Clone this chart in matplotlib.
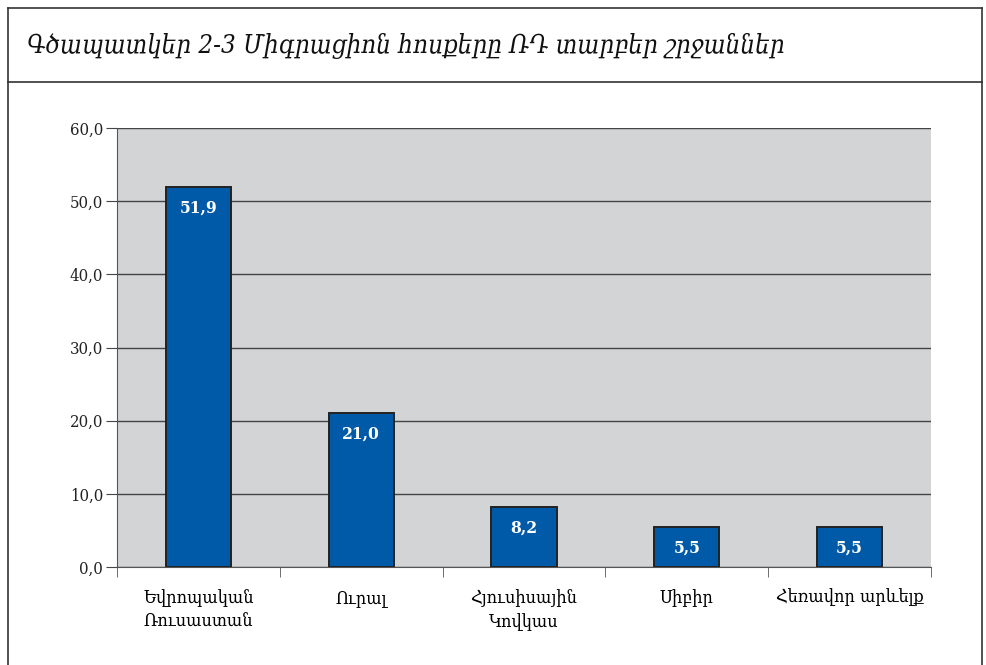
import matplotlib
matplotlib.use("Agg")
import matplotlib.pyplot as plt
from matplotlib.lines import Line2D
from matplotlib.ticker import FixedLocator, FuncFormatter

TITLE = "Գծապատկեր 2-3 Միգրացիոն հոսքերը ՌԴ տարբեր շրջաններ"
regions = ["Եվրոպական\nՌուսաստան", "Ուրալ", "Հյուսիսային\nԿովկաս", "Սիբիր", "Հեռավոր արևելք"]
shares = [51.9, 21.0, 8.2, 5.5, 5.5]
yticks = [0, 10, 20, 30, 40, 50, 60]

BAR = "#005aa7"
BG = "#d3d4d6"
FONT = ["DejaVu Serif", "DejaVu Sans"]

plt.rcParams.update({"font.family": FONT, "font.stretch": "condensed"})

W, H = 987, 665
fig = plt.figure(figsize=(W / 100, H / 100), dpi=100)

def fx(px):
    return px / W

def fy(py):
    return 1 - py / H

# outer frame and title separator
for xs, ys in [((8, 8), (8, H + 5)), ((982, 982), (8, H + 5)),
               ((8, 982), (8, 8)), ((8, 982), (82, 82))]:
    fig.add_artist(Line2D([fx(x) for x in xs], [fy(y) for y in ys],
                          color="#333333", lw=1.2, transform=fig.transFigure))

fig.text(fx(27), fy(46), TITLE, fontsize=18.5, style="italic", va="center",
         ha="left", color="#111111")

ax = fig.add_axes([fx(117), fy(567), fx(931 - 117), fy(128) - fy(567)])
ax.set_facecolor(BG)
x = range(len(regions))
bars = ax.bar(x, shares, 0.4, color=BAR, edgecolor="#222222", linewidth=1.4, zorder=3)
for xi, v in zip(x, shares):
    ax.annotate(f"{v:.1f}".replace(".", ","), xy=(xi, v), xytext=(0, -9),
                textcoords="offset points", ha="center", va="top",
                color="white", fontsize=12.5, fontweight="bold", zorder=4)

ax.set_xlim(-0.5, len(regions) - 0.5)
ax.set_ylim(0, 60)
ax.set_yticks(yticks)
ax.yaxis.set_major_formatter(FuncFormatter(lambda v, p: f"{v:.1f}".replace(".", ",")))
ax.grid(axis="y", color="#444444", lw=1.0, zorder=1)
ax.set_axisbelow(True)

ax.set_xticks(list(x))
ax.set_xticklabels(regions, fontsize=13, linespacing=1.4)
ax.tick_params(axis="x", which="major", length=0, pad=16)
ax.xaxis.set_minor_locator(FixedLocator([i - 0.5 for i in range(len(regions) + 1)]))
ax.tick_params(axis="x", which="minor", length=7, color="#555555")
ax.tick_params(axis="y", length=8, color="#444444", labelsize=12, pad=2)
for t in ax.get_yticklabels():
    t.set_color("#222222")

for s in ["top", "right"]:
    ax.spines[s].set_visible(False)
ax.spines["left"].set_color("#555555")
ax.spines["bottom"].set_color("#555555")

fig.savefig("out.png", dpi=100, facecolor="white")
